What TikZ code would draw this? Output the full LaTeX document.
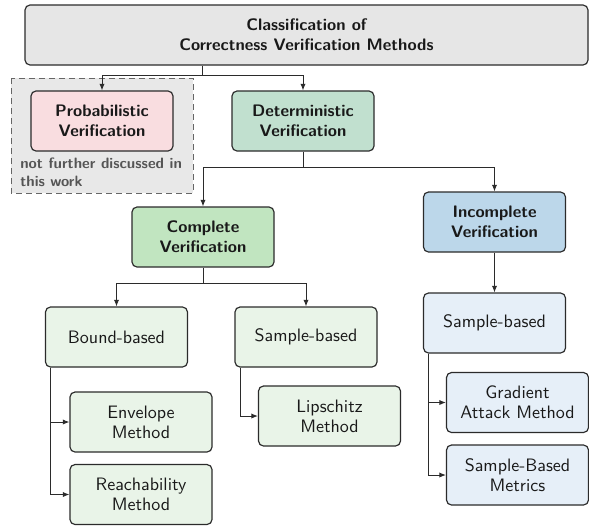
\documentclass[tikz,border=0pt]{standalone}
\usetikzlibrary{arrows.meta,calc}

\definecolor{rootfill}{HTML}{E6E6E6}
\definecolor{notefill}{HTML}{E8E8E8}
\definecolor{noteline}{HTML}{666666}
\definecolor{notetext}{HTML}{555555}
\definecolor{probfill}{HTML}{F9DDE0}
\definecolor{detfill}{HTML}{C1E0CF}
\definecolor{compfill}{HTML}{C1E5C0}
\definecolor{incfill}{HTML}{BCD7EA}
\definecolor{leafgreen}{HTML}{E9F4E8}
\definecolor{leafblue}{HTML}{E6EFF8}
\definecolor{edgecol}{HTML}{2B2B2B}

\begin{document}
\begin{tikzpicture}[x=0.6pt, y=-0.6pt,
  font=\sffamily,
  box/.style={draw=edgecol, line width=0.7pt, rounded corners=3pt,
    minimum width=85.2pt, minimum height=36pt, align=center,
    inner sep=2pt, text=black!90},
  mainbox/.style={box, font=\sffamily\bfseries},
  leafbox/.style={box, font=\sffamily\fontsize{10.8}{12}\selectfont},
  link/.style={draw=edgecol, line width=0.6pt},
  arr/.style={link, -{Latex[length=4pt,width=3.2pt]}}
]
\useasboundingbox (0,0) rectangle (589,525);

% region holding the branch that is left aside
\draw[dashed, draw=noteline, fill=notefill, line width=0.6pt,
      dash pattern=on 3.6pt off 2.4pt]
  (11,78) rectangle (193,193);

% boxes
\node[mainbox, fill=rootfill, minimum width=337.8pt] (root) at (306.5,35)
  {Classification of\\Correctness Verification Methods};
\node[mainbox, fill=probfill] (prob) at (102,121) {Probabilistic\\Verification};
\node[mainbox, fill=detfill] (det) at (303,121) {Deterministic\\Verification};
\node[mainbox, fill=compfill] (comp) at (203,237) {Complete\\Verification};
\node[mainbox, fill=incfill] (inc) at (494.5,222) {Incomplete\\Verification};

\node[leafbox, fill=leafgreen] (bound) at (116.5,337) {Bound-based};
\node[leafbox, fill=leafgreen] (smid) at (306,337) {Sample-based};
\node[leafbox, fill=leafblue] (sright) at (494.5,323) {Sample-based};

\node[leafbox, fill=leafgreen] (env) at (141,422) {Envelope\\Method};
\node[leafbox, fill=leafgreen] (reach) at (141,494.5) {Reachability\\Method};
\node[leafbox, fill=leafgreen] (lip) at (329.5,416) {Lipschitz\\Method};
\node[leafbox, fill=leafblue] (grad) at (517.5,402.5) {Gradient\\Attack Method};
\node[leafbox, fill=leafblue] (metr) at (517.5,475) {Sample-Based\\Metrics};

% remark under the probabilistic branch
\node[anchor=west, align=left, inner sep=0pt, text=notetext,
      font=\sffamily\bfseries\small] (note) at (20,172.5)
  {\makebox[97pt][s]{not further discussed in}\\this work};

% junctions
\coordinate (rj) at (202,75);
\coordinate (dj) at (303,167);
\coordinate (cj) at (203,283);

% connectors
\draw[link] (rj |- root.south) -- (rj);
\draw[arr] (rj) -| (prob.north);
\draw[arr] (rj) -| (det.north);

\draw[link] (det.south) -- (dj);
\draw[arr] (dj) -| (comp.north);
\draw[arr] (dj) -| (inc.north);

\draw[link] (comp.south) -- (cj);
\draw[arr] (cj) -| (bound.north);
\draw[arr] (cj) -| (smid.north);

\draw[arr] (inc.south) -- (sright.north);

\draw[arr] ([xshift=3.6pt]bound.south west) |- (env.west);
\draw[arr] ([xshift=3.6pt]bound.south west) |- (reach.west);
\draw[arr] ([xshift=3.6pt]smid.south west) |- (lip.west);
\draw[arr] ([xshift=3.6pt]sright.south west) |- (grad.west);
\draw[arr] ([xshift=3.6pt]sright.south west) |- (metr.west);
\end{tikzpicture}
\end{document}
